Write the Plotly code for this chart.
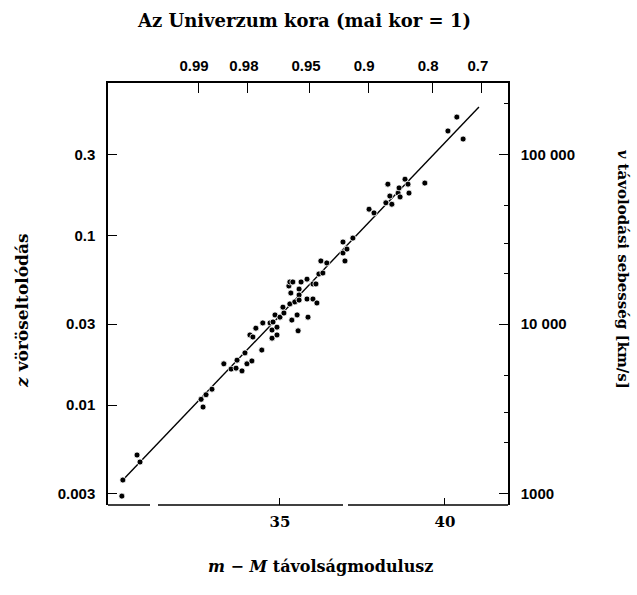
import plotly.graph_objects as go

# Galaxies: distance modulus (m - M) and redshift z
distance_modulus = [
    30.21, 30.24, 30.67, 30.76, 32.61, 32.67, 32.76, 32.94, 33.30, 33.52,
    33.67, 33.70, 33.85, 34.00, 34.15, 33.94, 34.45, 34.09, 34.18, 34.27,
    34.48, 34.70, 34.79, 34.76, 34.91, 34.76, 34.91, 34.85, 35.00, 35.12,
    35.09, 35.30, 35.45, 35.52, 35.36, 35.85, 35.55, 35.33, 35.58, 35.58,
    35.58, 35.82, 36.00, 36.12, 35.27, 35.30, 35.39, 35.64, 35.82, 36.00,
    36.09, 36.18, 36.30, 36.24, 36.42, 36.97, 36.91, 37.03, 36.91, 37.21,
    37.70, 37.85, 38.21, 38.39, 38.33, 38.58, 38.64, 38.61, 38.91, 38.27,
    38.79, 38.88, 39.39, 40.09, 40.36, 40.55,
]
redshift = [
    0.00290, 0.00361, 0.00507, 0.00461, 0.0108, 0.00973, 0.0115, 0.0124, 0.0175, 0.0163,
    0.0165, 0.0184, 0.0159, 0.0175, 0.0182, 0.0203, 0.0211, 0.0259, 0.0252, 0.0284,
    0.0305, 0.0305, 0.0309, 0.0277, 0.0288, 0.0248, 0.0259, 0.0340, 0.0330, 0.0349,
    0.0378, 0.0395, 0.0406, 0.0340, 0.0317, 0.0330, 0.0274, 0.0458, 0.0483, 0.0446,
    0.0416, 0.0422, 0.0422, 0.0400, 0.0504, 0.0532, 0.0532, 0.0532, 0.0553, 0.0518,
    0.0518, 0.0593, 0.0601, 0.0708, 0.0689, 0.0708, 0.0789, 0.0832, 0.0916, 0.0966,
    0.143, 0.136, 0.156, 0.153, 0.171, 0.178, 0.169, 0.191, 0.178, 0.201,
    0.215, 0.201, 0.204, 0.414, 0.500, 0.371,
]

# Hubble-law line through the sample
fit_modulus = [30.24, 41.03]
fit_redshift = [0.00361, 0.573]

# Axis ranges
modulus_range = [29.79, 41.91]
log_z_range = [-2.590, -0.100]

# Tick marks and labels
modulus_ticks = [35, 40]
z_ticks = [0.003, 0.01, 0.03, 0.1, 0.3]
z_tick_labels = ["0.003", "0.01", "0.03", "0.1", "0.3"]
velocity_ticks = [1000, 10000, 100000]
velocity_tick_labels = ["1000", "10 000", "100 000"]
velocity_minor_ticks = [2000, 3000, 5000, 20000, 30000, 50000, 200000]
age_tick_modulus = [32.52, 34.03, 35.91, 37.67, 39.61, 41.12]
age_tick_labels = ["0.99", "0.98", "0.95", "0.9", "0.8", "0.7"]

# recession velocity per unit redshift on the right-hand scale [km/s]
V_PER_Z = 1e5 / 0.3
log_v_offset = 5.0 - (-0.5228787)  # log10(V_PER_Z)
log_v_range = [log_z_range[0] + log_v_offset, log_z_range[1] + log_v_offset]
velocity = [z * V_PER_Z for z in redshift]

SANS = dict(family="Liberation Sans", size=15, color="black", weight="bold")
SERIF_TICK = dict(family="DejaVu Serif", size=15, color="black", weight="bold")


def serif(size):
    return dict(family="DejaVu Serif", size=size, color="black", weight="bold")


fig = go.Figure()

fig.add_trace(go.Scatter(
    x=fit_modulus, y=fit_redshift, mode="lines",
    line=dict(color="black", width=1.4),
    xaxis="x", yaxis="y", hoverinfo="skip", showlegend=False,
))
fig.add_trace(go.Scatter(
    x=distance_modulus, y=redshift, mode="markers",
    marker=dict(color="black", size=6, line=dict(color="white", width=0.8)),
    xaxis="x", yaxis="y", showlegend=False,
))
# carries the top (age) and right (velocity) scales
fig.add_trace(go.Scatter(
    x=distance_modulus, y=velocity, mode="markers",
    marker=dict(opacity=0), xaxis="x2", yaxis="y2",
    hoverinfo="skip", showlegend=False,
))

frame = dict(showline=True, linecolor="black", linewidth=1.5,
             showgrid=False, zeroline=False, ticks="inside",
             tickcolor="black", tickwidth=1.4)

fig.update_layout(
    width=637, height=595,
    margin=dict(l=108, r=129, t=83, b=90),
    paper_bgcolor="white", plot_bgcolor="white",
    xaxis=dict(
        range=modulus_range, tickvals=modulus_ticks,
        ticktext=[str(t) for t in modulus_ticks],
        showline=False, showgrid=False, zeroline=False,
        ticks="inside", ticklen=7, tickcolor="black", tickwidth=1.4,
        tickfont=SERIF_TICK, ticklabelstandoff=6,
    ),
    xaxis2=dict(
        frame, range=modulus_range, overlaying="x", side="top", anchor="y2",
        tickvals=age_tick_modulus, ticktext=age_tick_labels, ticklen=10,
        tickfont=SANS, ticklabelstandoff=4, ticklabelshift=-4,
    ),
    yaxis=dict(
        frame, type="log", range=log_z_range,
        tickvals=z_ticks, ticktext=z_tick_labels, ticklen=9,
        tickfont=SANS, ticklabelstandoff=8,
    ),
    yaxis2=dict(
        frame, type="log", range=log_v_range, overlaying="y", side="right",
        anchor="x2", tickvals=velocity_ticks, ticktext=velocity_tick_labels,
        ticklen=9, tickfont=SANS, ticklabelstandoff=8,
        minor=dict(tickmode="array", tickvals=velocity_minor_ticks,
                   ticks="inside", ticklen=4, tickcolor="black", tickwidth=1),
    ),
)

# bottom frame line, printed with two small breaks
for x0, x1 in [(0.0, 0.105), (0.125, 0.5875), (0.60, 1.0)]:
    fig.add_shape(type="line", xref="x domain", yref="y domain",
                  x0=x0, x1=x1, y0=0, y1=0,
                  line=dict(color="black", width=1.5), layer="above")

fig.add_annotation(text="Az Univerzum kora (mai kor = 1)",
                   xref="paper", yref="paper", x=0.49, y=1.0,
                   xanchor="center", yanchor="bottom", yshift=50,
                   showarrow=False, font=serif(18))
fig.add_annotation(text="<i>m</i> − <i>M</i> távolságmodulusz",
                   xref="paper", yref="paper", x=0.53, y=0.0,
                   xanchor="center", yanchor="top", yshift=-50,
                   showarrow=False, font=serif(16))
fig.add_annotation(text="<i>z</i> vöröseltolódás", textangle=-90,
                   xref="paper", yref="paper", x=0.0, y=0.46,
                   xanchor="right", yanchor="middle", xshift=-74,
                   showarrow=False, font=serif(17))
fig.add_annotation(text="<i>v</i> távolodási sebesség [km/s]", textangle=90,
                   xref="paper", yref="paper", x=1.0, y=0.56,
                   xanchor="left", yanchor="middle", xshift=104,
                   showarrow=False, font=serif(15))

fig.write_html("out.html")
